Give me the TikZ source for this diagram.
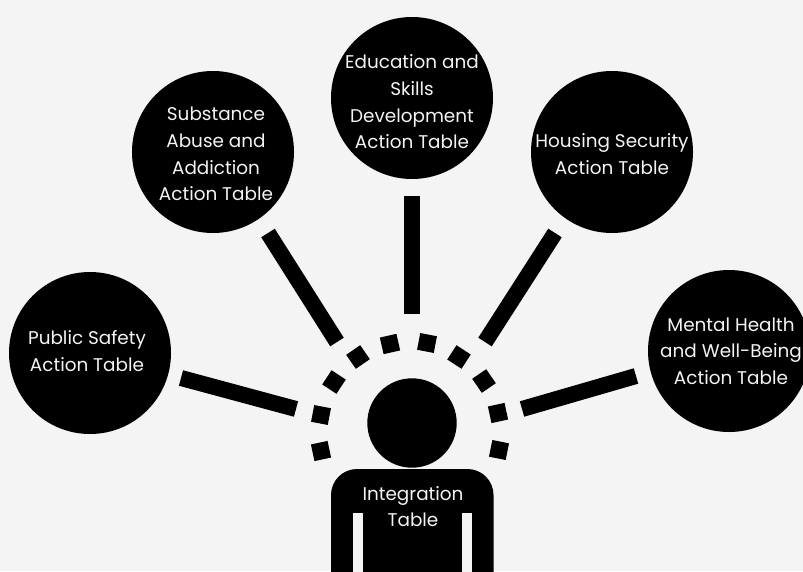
\documentclass[tikz,border=0pt]{standalone}
\usepackage{fontspec}
\usetikzlibrary{calc}
\setmainfont{Poppins}
\definecolor{bgc}{HTML}{F4F4F4}
\tikzset{
 hub/.style={circle,fill=black,inner sep=0pt,minimum size=162pt},
 spoke/.style={line width=16pt,black},
 tick/.style={line width=17pt,black},
 lbl/.style={text=bgc,align=center,inner sep=0pt,font=\fontsize{18.4pt}{26.7pt}\selectfont}
}
\begin{document}
\begin{tikzpicture}[x=1pt,y=-1pt]
\useasboundingbox[fill=bgc] (0,0) rectangle (803,571);
\node[hub] (a) at (90,353) {};
\node[lbl] (al) at (87,351) {Public Safety\\Action Table};
\node[hub] (b) at (213,152) {};
\node[lbl] (bl) at (216,154) {Substance\\Abuse and\\Addiction\\Action Table};
\node[hub] (c) at (412,98) {};
\node[lbl] (cl) at (412,102) {Education and\\Skills\\Development\\Action Table};
\node[hub] (d) at (612,152) {};
\node[lbl] (dl) at (612,154) {Housing Security\\Action Table};
\node[hub] (e) at (729,351) {};
\node[lbl] (el) at (731,351) {Mental Health\\and Well-Being\\Action Table};
\coordinate (hc) at (412,423);
\fill (hc) circle (44.7);
\begin{scope}
\clip (0,0) rectangle (803,571);
\fill[rounded corners=26] (331,620) -- (331,469) -- (493.5,469) -- (493.5,620) -- cycle;
\fill[bgc] (353,513) rectangle (363,575);
\fill[bgc] (462,513) rectangle (472,575);
\end{scope}
\node[lbl] (i) at (413,506.5) {Integration\\Table};
\coordinate (a1) at (181,378); \coordinate (a2) at (296,409);
\coordinate (b1) at (268,233); \coordinate (b2) at (337,342);
\coordinate (c1) at (412,196); \coordinate (c2) at (412,314);
\coordinate (d1) at (555,233); \coordinate (d2) at (485,342);
\coordinate (e1) at (636,376); \coordinate (e2) at (522,409);
\draw[spoke] (a1)--(a2);
\draw[spoke] (b1)--(b2);
\draw[spoke] (c1)--(c2);
\draw[spoke] (d1)--(d2);
\draw[spoke] (e1)--(e2);
\coordinate (rc) at (410,432);
\foreach \x/\y in {321/451,321/415,334/382,358/357,390/344,427/343,459/357,484/381,498/413,499/450}{
 \draw[tick] ($(\x,\y)!8.5pt!(rc)$) -- ($(\x,\y)!-8.5pt!(rc)$);
}
\end{tikzpicture}
\end{document}
